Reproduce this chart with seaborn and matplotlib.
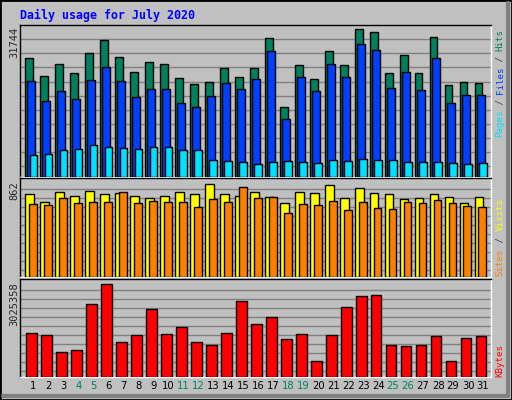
import matplotlib
matplotlib.use("Agg")
import matplotlib.pyplot as plt
import numpy as np
import pandas as pd
import seaborn as sns
from matplotlib.patches import Rectangle

sns.set_style("white")
plt.rcParams['font.family'] = ['DejaVu Sans']

# DATA
days = np.arange(1, 32)
weekend_days = [4, 5, 11, 12, 18, 19, 25, 26]
hits = [25510, 21640, 24220, 22290, 26580, 29380, 25720, 22500, 24650, 24220,
        21210, 19920, 20350, 23360, 21430, 23360, 29810, 14980, 24000, 21000,
        27010, 24000, 31744, 31100, 22290, 26150, 22290, 30020, 19710, 20350, 20140]
files = [20500, 16200, 18350, 16630, 20720, 23510, 20500, 17060, 18780, 18780,
         15770, 14910, 17280, 20070, 18780, 20930, 26950, 12340, 21360, 18350,
         24150, 21360, 28450, 27160, 19000, 22440, 18570, 25440, 15770, 17490, 17490]
pages = [4810, 5030, 5890, 6100, 6960, 6530, 6320, 6100, 6530, 6530,
         5890, 5890, 3740, 3520, 3310, 2880, 3310, 3520, 3310, 3090,
         3740, 3520, 3950, 3740, 3740, 3310, 3310, 3310, 3090, 2880, 3090]
visits = [769, 694, 787, 750, 797, 769, 778, 750, 731, 750,
          787, 769, 862, 769, 750, 787, 741, 684, 787, 778,
          852, 731, 824, 778, 769, 722, 731, 769, 741, 684, 741]
sites = [675, 666, 731, 684, 694, 694, 787, 684, 703, 694,
         694, 647, 722, 694, 834, 731, 741, 600, 675, 666,
         703, 619, 694, 638, 628, 694, 684, 712, 684, 656, 647]
kbytes = [1435000, 1369000, 806000, 872000, 2396000, 3025358, 1137000, 1369000, 2230000, 1402000,
          1634000, 1137000, 1038000, 1435000, 2495000, 1733000, 1965000, 1237000, 1402000, 508000,
          1369000, 2297000, 2661000, 2694000, 1038000, 1005000, 1038000, 1336000, 508000, 1270000, 1336000]

df = pd.DataFrame({'day': days, 'hits': hits, 'files': files, 'pages': pages,
                   'visits': visits, 'sites': sites, 'kbytes': kbytes})

BG = '#C0C0C0'
GRID = '#808080'
W, H = 512, 400

fig = plt.figure(figsize=(5.12, 4.0), dpi=100, facecolor=BG)
fig.patches.append(Rectangle((0, 0), 1, 1, transform=fig.transFigure,
                             fill=False, edgecolor='black', linewidth=2))
# bevel: dark bottom/right edge
fig.lines.append(plt.Line2D([3 / W, 1 - 4 / W], [4 / H, 4 / H], transform=fig.transFigure,
                            color='#808080', linewidth=3))
fig.lines.append(plt.Line2D([1 - 4 / W, 1 - 4 / W], [4 / H, 1 - 3 / H], transform=fig.transFigure,
                            color='#808080', linewidth=3))


def make_ax(top, bottom):
    ax = fig.add_axes([20 / W, (H - bottom) / H, 471 / W, (bottom - top) / H])
    ax.set_facecolor(BG)
    for s in ax.spines.values():
        s.set_color('black')
        s.set_linewidth(1)
    ax.spines['bottom'].set_color('white')
    ax.spines['right'].set_color('white')
    ax.set_yticks([])
    return ax


def bars(ax, col, color, offset, width):
    sns.barplot(data=df.assign(pos=df['day'] + offset), x='pos', y=col, native_scale=True,
                width=width, color=color, edgecolor='black', linewidth=1,
                saturation=1, ax=ax, zorder=3)


# top panel
ax1 = make_ax(25, 177)
ymax1 = 32600
ax1.set_ylim(0, ymax1)
for k in range(10):
    ax1.axhline((11.3 + 14 * k) / 151.7 * ymax1, color=GRID, linewidth=1, zorder=1)
bars(ax1, 'hits', '#00805C', -0.29, 0.5)
bars(ax1, 'files', '#0040FF', -0.15, 0.5)
bars(ax1, 'pages', '#00E0FF', 0.0, 0.5)

# middle panel
ax2 = make_ax(178, 277)
ymax2 = 921
ax2.set_ylim(0, ymax2)
for k in range(10):
    ax2.axhline((6.7 + 9 * k) / 98.7 * ymax2, color=GRID, linewidth=1, zorder=1)
bars(ax2, 'visits', '#FFFF00', -0.25, 0.55)
bars(ax2, 'sites', '#FF8000', -0.04, 0.53)

# bottom panel
ax3 = make_ax(279, 377)
ymax3 = 3204000
ax3.set_ylim(0, ymax3)
for k in range(10):
    ax3.axhline((5.7 + 8.9 * k) / 96.7 * ymax3, color=GRID, linewidth=1, zorder=1)
bars(ax3, 'kbytes', '#FF0000', -0.12, 0.69)

for ax in (ax1, ax2, ax3):
    ax.set_xlim(0.11, 31.53)
    ax.set_xticks([])
    ax.set_yticks([])
    ax.set_xlabel('')
    ax.set_ylabel('')

# title
fig.text(20 / W, 1 - 15 / H, 'Daily usage for July 2020', color='#0000FF',
         family='DejaVu Sans Mono', fontweight='bold', fontsize=8.4, va='center', ha='left')

# max labels
mono = 'DejaVu Sans Mono'
fig.text(14 / W, 1 - 27 / H, '31744', rotation=90, fontsize=7.5, family=mono, va='top', ha='center')
fig.text(14 / W, 1 - 181 / H, '862', rotation=90, fontsize=7.5, family=mono, va='top', ha='center')
fig.text(14 / W, 1 - 282 / H, '3025358', rotation=90, fontsize=7.5, family=mono, va='top', ha='center')


def right_label(parts, ybottom, step):
    pos = 0
    for txt, color in parts:
        fig.text(500 / W, 1 - (ybottom - pos * step) / H, txt, rotation=90, color=color,
                 family=mono, fontsize=6.6, va='bottom', ha='center')
        pos += len(txt)


right_label([('Pages', '#00E0FF'), (' / ', '#404040'), ('Files', '#0040FF'),
             (' / ', '#404040'), ('Hits', '#00805C')], 137, 5.35)
right_label([('Sites', '#FF8000'), (' / ', '#404040'), ('Visits', '#FFFF00')], 276, 5.6)
right_label([('KBytes', '#FF0000')], 377, 5.6)

# day labels
for d in days:
    color = '#008060' if d in weekend_days else 'black'
    ax3.text(d, -0.09, str(d), transform=ax3.get_xaxis_transform(), color=color,
             fontsize=7.2, ha='center', va='center')

fig.savefig('out.png', dpi=100, facecolor=BG)
